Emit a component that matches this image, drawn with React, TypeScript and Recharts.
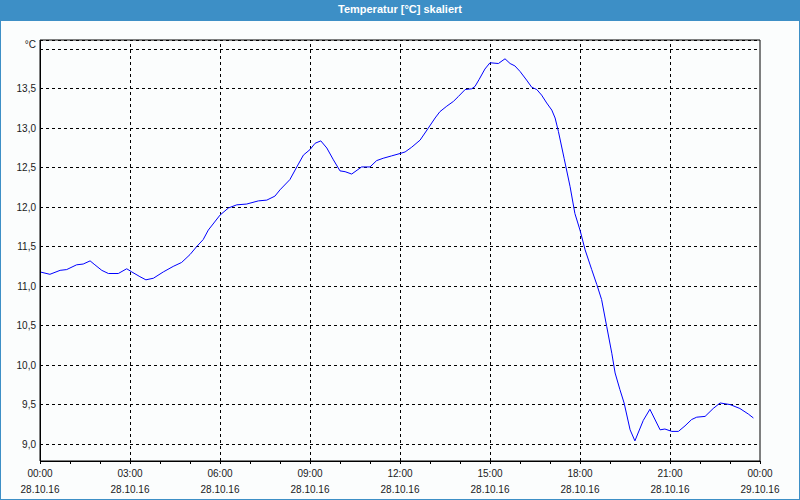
import React from "react";
import {
  LineChart,
  Line,
  XAxis,
  YAxis,
  CartesianGrid,
  ReferenceLine,
  ReferenceArea,
} from "recharts";

// time of day in hours
const hours = [
  0, 0.33, 0.67, 0.89, 1.22, 1.44, 1.67, 1.83, 2.06, 2.28, 2.61, 2.89, 3.06, 3.33,
  3.53, 3.78, 4.11, 4.44, 4.72, 5.0, 5.22, 5.44, 5.61, 6.0, 6.28, 6.56, 6.89, 7.28,
  7.56, 7.83, 8.0, 8.33, 8.56, 8.78, 9.0, 9.17, 9.36, 9.56, 9.78, 10.0, 10.17, 10.39,
  10.72, 11.0, 11.22, 11.44, 11.72, 12.0, 12.17, 12.39, 12.67, 12.94, 13.17, 13.33,
  13.56, 13.78, 13.94, 14.17, 14.39, 14.5, 14.64, 14.83, 15.0, 15.28, 15.5, 15.67,
  15.83, 16.0, 16.22, 16.39, 16.56, 16.72, 16.89, 17.06, 17.17, 17.28, 17.47, 17.67,
  17.83, 18.0, 18.17, 18.39, 18.56, 18.72, 18.89, 19.06, 19.17, 19.33, 19.47, 19.67,
  19.83, 20.11, 20.33, 20.67, 20.83, 21.06, 21.28, 21.5, 21.72, 21.89, 22.17, 22.44,
  22.67, 23.0, 23.33, 23.61, 23.78,
];
const temps = [
  11.18, 11.15, 11.2, 11.21, 11.27, 11.28, 11.32, 11.27, 11.2, 11.16, 11.16, 11.22,
  11.18, 11.12, 11.08, 11.1, 11.18, 11.25, 11.3, 11.4, 11.5, 11.59, 11.71, 11.9,
  11.99, 12.03, 12.04, 12.08, 12.09, 12.14, 12.22, 12.35, 12.51, 12.66, 12.73, 12.81,
  12.84, 12.75, 12.6, 12.46, 12.45, 12.42, 12.51, 12.51, 12.59, 12.62, 12.65, 12.68,
  12.7, 12.76, 12.85, 13.0, 13.13, 13.21, 13.28, 13.34, 13.4, 13.49, 13.5, 13.53,
  13.62, 13.75, 13.83, 13.82, 13.88, 13.82, 13.79, 13.72, 13.61, 13.52, 13.49, 13.42,
  13.32, 13.23, 13.13, 12.96, 12.62, 12.26, 11.92, 11.71, 11.46, 11.21, 11.02, 10.83,
  10.49, 10.15, 9.9, 9.69, 9.52, 9.18, 9.04, 9.3, 9.44, 9.18, 9.19, 9.16, 9.16, 9.23,
  9.31, 9.34, 9.35, 9.45, 9.52, 9.5, 9.45, 9.38, 9.33,
];

const hourTicks = Array.from({ length: 25 }, (_, i) => i);
const majorHours = [0, 3, 6, 9, 12, 15, 18, 21, 24];
const timeLabels = ["00:00", "03:00", "06:00", "09:00", "12:00", "15:00", "18:00", "21:00", "00:00"];
const dateLabels = [
  "28.10.16", "28.10.16", "28.10.16", "28.10.16", "28.10.16",
  "28.10.16", "28.10.16", "28.10.16", "29.10.16",
];
const yTicks = [9, 9.5, 10, 10.5, 11, 11.5, 12, 12.5, 13, 13.5, 14];
const yLabels = ["9,0", "9,5", "10,0", "10,5", "11,0", "11,5", "12,0", "12,5", "13,0", "13,5", "°C"];
const yMin = 8.785;
const yMax = 14.118;

const FONT = "'Liberation Sans', Arial, sans-serif";

function TimeTick({ x, y, payload }: any) {
  const i = majorHours.indexOf(payload.value);
  if (i < 0) return <g />;
  return (
    <g>
      <text x={x} y={y + 13} textAnchor="middle" fontSize={10} fill="#1a1a1a" fontFamily={FONT}>
        {timeLabels[i]}
      </text>
      <text x={x} y={y + 29} textAnchor="middle" fontSize={10} fill="#1a1a1a" fontFamily={FONT}>
        {dateLabels[i]}
      </text>
    </g>
  );
}

function TempTick({ x, y, payload }: any) {
  const i = yTicks.indexOf(payload.value);
  const label = yLabels[i] ?? "";
  // the unit sits a bit higher, near the frame
  const dy = label === "°C" ? -1 : 3.5;
  return (
    <text x={x} y={y + dy} textAnchor="end" fontSize={10} fill="#1a1a1a" fontFamily={FONT}>
      {label}
    </text>
  );
}

export default function App() {
  const data = hours.map((h, i) => ({ h, t: temps[i] }));

  return (
    <div style={{ position: "relative", width: 800, height: 500, background: "#fbfdfd" }}>
      <style>{"body{margin:0} svg line, svg rect{shape-rendering:crispEdges}"}</style>
      <div
        style={{
          position: "absolute",
          left: 0,
          top: 0,
          width: 800,
          height: 21,
          background: "#3d8fc6",
          color: "#fff",
          fontFamily: FONT,
          fontWeight: "bold",
          fontSize: 11,
          lineHeight: "19px",
          textAlign: "center",
        }}
      >
        Temperatur [°C] skaliert
      </div>
      <div style={{ position: "absolute", left: 0, top: 0 }}>
        <LineChart width={800} height={500} data={data} margin={{ top: 40, right: 40, left: 0, bottom: 0 }}>
          <CartesianGrid vertical={false} stroke="#000" strokeDasharray="3 3" />
          {majorHours.slice(1, -1).map((h) => (
            <ReferenceLine key={h} x={h} stroke="#000" strokeDasharray="3 3" />
          ))}
          <ReferenceArea x1={0} x2={24} y1={yMin} y2={yMax} fill="none" stroke="#000" strokeWidth={1} fillOpacity={0} />
          <XAxis
            dataKey="h"
            type="number"
            domain={[0, 24]}
            ticks={hourTicks}
            interval={0}
            height={39}
            tickSize={3}
            tickMargin={0}
            axisLine={{ stroke: "#000" }}
            tickLine={{ stroke: "#000" }}
            tick={<TimeTick />}
            allowDataOverflow
          />
          <YAxis
            type="number"
            domain={[yMin, yMax]}
            ticks={yTicks}
            interval={0}
            width={40}
            tickSize={0}
            tickMargin={4}
            axisLine={{ stroke: "#000" }}
            tickLine={false}
            tick={<TempTick />}
            allowDataOverflow
          />
          <Line
            type="linear"
            dataKey="t"
            stroke="#0000ff"
            strokeWidth={1}
            dot={false}
            isAnimationActive={false}
          />
        </LineChart>
      </div>
      <div
        style={{
          position: "absolute",
          inset: 0,
          border: "1px solid #3d8fc6",
          boxSizing: "border-box",
          pointerEvents: "none",
        }}
      />
    </div>
  );
}
